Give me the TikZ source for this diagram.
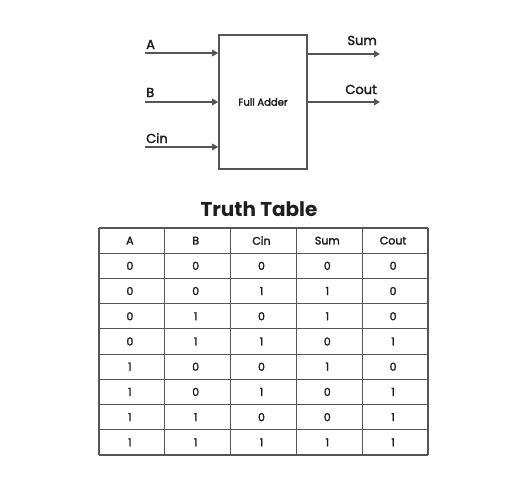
\documentclass[tikz,border=0pt]{standalone}
\usepackage{fontspec}
\setmainfont{Poppins}[RawFeature={embolden=2.2}]
\newfontfamily\titlefont{Poppins}
\usetikzlibrary{arrows.meta}
\definecolor{linegray}{HTML}{555555}
\definecolor{textdark}{HTML}{1E1E1E}

\begin{document}
\begin{tikzpicture}[x=1pt, y=-1pt,
    wire/.style={draw=linegray, line width=1.8pt, -{Triangle[length=6pt,width=6.5pt]}},
    portlabel/.style={text=textdark, font=\fontsize{13}{15}\selectfont, inner sep=0pt},
    grid/.style={draw=linegray, line width=1.1pt},
    cell/.style={text=textdark, font=\fontsize{11}{13}\selectfont}]
\useasboundingbox (0,0) rectangle (527,480);

% full adder block
\node[draw=linegray, line width=1.6pt, minimum width=88pt, minimum height=134pt,
      inner sep=0pt, text=textdark, font=\fontsize{10}{12}\selectfont] at (263,102) (fa) {Full Adder};

\coordinate (a) at (145,53);
\coordinate (b) at (145,102);
\coordinate (cin) at (145,147);
\coordinate (sum) at (380,54);
\coordinate (cout) at (380,102);

\draw[wire] (a) -- (fa.west |- a);
\draw[wire] (b) -- (fa.west |- b);
\draw[wire] (cin) -- (fa.west |- cin);
\draw[wire] (fa.east |- sum) -- (sum);
\draw[wire] (fa.east |- cout) -- (cout);

\node[portlabel, anchor=base west] at (146,49) (la) {A};
\node[portlabel, anchor=base west] at (146,97) (lb) {B};
\node[portlabel, anchor=base west] at (146,143) (lcin) {Cin};
\node[portlabel, anchor=base east] at (377,45) (lsum) {Sum};
\node[portlabel, anchor=base east] at (377,94) (lcout) {Cout};

% truth table
\node[text=textdark, font=\titlefont\fontsize{20}{24}\selectfont\bfseries] at (259,209) (title) {Truth Table};

\foreach \i in {0,...,5}
    \draw[grid] ({99+\i*65.8},228) -- ({99+\i*65.8},455);
\foreach \j in {0,...,9}
    \draw[grid] (99,{228+\j*25.22}) -- (428,{228+\j*25.22});

\foreach \h [count=\c] in {A,B,Cin,Sum,Cout}
    \node[cell] at ({97+(\c-0.5)*65.8},240.6) (h\c) {\h};

\foreach \row [count=\r] in {{0,0,0,0,0},{0,0,1,1,0},{0,1,0,1,0},{0,1,1,0,1},
                             {1,0,0,1,0},{1,0,1,0,1},{1,1,0,0,1},{1,1,1,1,1}}
    \foreach \v [count=\c] in \row
        \node[cell] at ({97+(\c-0.5)*65.8},{240.6+\r*25.22}) (c\r\c) {\v};
\end{tikzpicture}
\end{document}
